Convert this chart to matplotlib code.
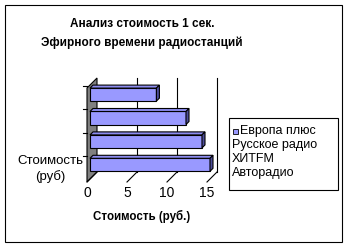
import matplotlib
matplotlib.use("Agg")
import matplotlib.pyplot as plt
from matplotlib.patches import Polygon, Rectangle

plt.rcParams["font.family"] = ["Liberation Sans", "DejaVu Sans"]

# data
stations = ["Европа плюс", "Русское радио", "ХИТFM", "Авторадио"]
costs = [15.0, 14.0, 12.0, 8.3]
category = "Стоимость\n(руб)"
x_ticks = [0, 5, 10, 15]
title_lines = ["Анализ стоимость 1 сек.", "Эфирного времени радиостанций"]
x_title = "Стоимость (руб.)"

W, H = 348, 248
front_col = "#9999ff"
top_col = "#8c8cf0"
side_col = "#4d4d99"

fig = plt.figure(figsize=(W / 100, H / 100), dpi=100)
ax = fig.add_axes([0, 0, 1, 1])
# 8 px per unit on x, 23.4 px per bar slot on y
px_x, px_y = 8.0, 23.4
ax.set_xlim(-90 / px_x, (W - 90) / px_x)
ax.set_ylim((164.8 - H) / px_y, 164.8 / px_y)
ax.axis("off")

# oblique depth offsets (in data units)
def off(px):
    return px / px_x, px / px_y

fdx, fdy = off(-3)   # front plane relative to bar plane
bdx, bdy = off(7)    # back plane
ddx, ddy = off(3)    # bar depth

floor = -0.607
wall_top = 3.41

# side wall (gray)
ax.add_patch(Polygon([(fdx, floor + fdy), (fdx, wall_top + fdy),
                      (bdx, wall_top + bdy), (bdx, floor + bdy)],
                     closed=True, facecolor="#808080", edgecolor="black", lw=0.8))

# back wall gridlines and floor gridlines
for t in x_ticks[1:]:
    ax.plot([t + bdx, t + bdx], [floor + bdy, wall_top + bdy], color="black", lw=0.8)
for t in x_ticks:
    ax.plot([t + fdx, t + bdx], [floor + fdy, floor + bdy], color="black", lw=0.8)

# tick marks on the category axis
for i in range(len(stations)):
    y = i + 0.5 + fdy
    ax.plot([fdx - 4 / px_x, fdx], [y, y], color="black", lw=0.8)

# bars
ypos = list(range(len(stations)))
h = 0.556
ax.barh(ypos, costs, height=h, color=front_col, edgecolor="black", lw=0.8, zorder=3)
for y, v in zip(ypos, costs):
    top = [(0, y + h / 2), (ddx, y + h / 2 + ddy), (v + ddx, y + h / 2 + ddy), (v, y + h / 2)]
    side = [(v, y - h / 2), (v, y + h / 2), (v + ddx, y + h / 2 + ddy), (v + ddx, y - h / 2 + ddy)]
    ax.add_patch(Polygon(top, closed=True, facecolor=top_col, edgecolor="black", lw=0.8, zorder=3))
    ax.add_patch(Polygon(side, closed=True, facecolor=side_col, edgecolor="black", lw=0.8, zorder=3))

# x tick labels
for t in x_ticks:
    ax.text(t + fdx, floor + fdy - 11 / px_y, str(t), ha="center", va="center", fontsize=10)

# category label
fig.text(50 / W, 1 - 169 / H, category, ha="center", va="center", fontsize=9.5,
         multialignment="center", linespacing=1.3)

# titles
fig.text(142 / W, 1 - 24 / H, title_lines[0], ha="center", va="center", fontsize=8.5, fontweight="bold")
fig.text(142 / W, 1 - 43 / H, title_lines[1], ha="center", va="center", fontsize=8.5, fontweight="bold")
fig.text(141.5 / W, 1 - 216.7 / H, x_title, ha="center", va="center", fontsize=8.3, fontweight="bold")

# legend
lx0, ly0, lx1, ly1 = 229, 118, 338, 190
fig.add_artist(Rectangle((lx0 / W, 1 - ly1 / H), (lx1 - lx0) / W, (ly1 - ly0) / H,
                         transform=fig.transFigure, facecolor="white", edgecolor="black", lw=0.8))
fig.add_artist(Rectangle((233 / W, 1 - 134 / H), 5 / W, 5 / H, transform=fig.transFigure,
                         facecolor=front_col, edgecolor="black", lw=0.6))
for k, name in enumerate(stations):
    x0 = 240 if k == 0 else 232
    fig.text(x0 / W, 1 - (131 + 14 * k) / H, name, ha="left", va="center", fontsize=9)

# chart border
fig.add_artist(Rectangle((5 / W, 1 - 242 / H), 337 / W, 237 / H, transform=fig.transFigure,
                         facecolor="none", edgecolor="black", lw=0.8))

fig.savefig("out.png", dpi=100)
